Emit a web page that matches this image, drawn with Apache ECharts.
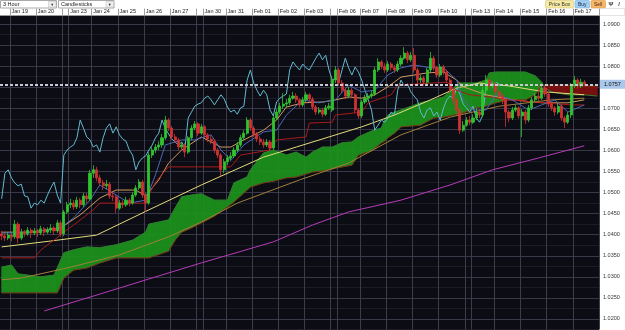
<!DOCTYPE html>
<html><head><meta charset="utf-8">
<script src="https://cdn.jsdelivr.net/npm/echarts@6.0.0/dist/echarts.min.js"></script>
<style>html,body{margin:0;padding:0;background:#fff;overflow:hidden}#c{width:625px;height:330px}</style>
</head><body><div id="c"></div><script>
// ---- tick labels / categories ----
const dayLabels = ['', 'Jan 19', 'Jan 20', '', 'Jan 23', 'Jan 24', 'Jan 25', 'Jan 26', 'Jan 27', '', 'Jan 30', 'Jan 31', 'Feb 01', 'Feb 02', 'Feb 03', '', 'Feb 06', 'Feb 07', 'Feb 08', 'Feb 09', 'Feb 10', '', 'Feb 13', 'Feb 14', 'Feb 15', 'Feb 16', 'Feb 17'];
const dayBars   = [3, 8, 8, 2, 7, 8, 8, 8, 8, 2, 7, 8, 8, 8, 8, 2, 7, 8, 8, 8, 8, 2, 7, 8, 8, 8, 8];

// ---- 3-hour candles ----
const open = [1.0402,1.0397,1.0392,1.0399,1.0395,1.0425,1.0392,1.0406,1.0402,1.0411,
1.0404,1.0409,1.0404,1.0414,1.0406,1.0411,1.0416,1.0409,1.0428,1.0402,
1.0454,1.0471,1.0475,1.0466,1.0482,1.0471,1.0492,1.0485,1.0546,1.0554,
1.0535,1.0523,1.0516,1.0520,1.0492,1.0490,1.0463,1.0475,1.0471,1.0482,
1.0475,1.0494,1.0511,1.0525,1.0494,1.0475,1.0589,1.0601,1.0608,1.0613,
1.0630,1.0672,1.0653,1.0632,1.0625,1.0608,1.0613,1.0596,1.0630,1.0653,
1.0663,1.0641,1.0656,1.0637,1.0627,1.0622,1.0601,1.0589,1.0554,1.0573,
1.0582,1.0587,1.0601,1.0613,1.0630,1.0641,1.0672,1.0653,1.0639,1.0627,
1.0620,1.0613,1.0620,1.0606,1.0677,1.0691,1.0705,1.0710,1.0713,1.0724,
1.0729,1.0720,1.0708,1.0720,1.0732,1.0722,1.0703,1.0691,1.0696,1.0686,
1.0701,1.0696,1.0767,1.0791,1.0760,1.0743,1.0729,1.0743,1.0732,1.0696,
1.0682,1.0715,1.0724,1.0729,1.0734,1.0791,1.0810,1.0800,1.0791,1.0805,
1.0796,1.0791,1.0805,1.0819,1.0831,1.0815,1.0826,1.0791,1.0767,1.0772,
1.0762,1.0791,1.0819,1.0796,1.0779,1.0798,1.0786,1.0767,1.0743,1.0720,
1.0696,1.0648,1.0660,1.0672,1.0667,1.0677,1.0691,1.0684,1.0743,1.0767,
1.0753,1.0758,1.0739,1.0729,1.0720,1.0691,1.0677,1.0696,1.0701,1.0682,
1.0691,1.0672,1.0701,1.0720,1.0729,1.0724,1.0748,1.0734,1.0710,1.0701,
1.0691,1.0705,1.0677,1.0667,1.0684,1.0753,1.0767,1.0753,1.0762];
const close = [1.0397,1.0392,1.0399,1.0395,1.0425,1.0392,1.0406,1.0402,1.0411,1.0404,
1.0409,1.0404,1.0414,1.0406,1.0411,1.0416,1.0409,1.0428,1.0402,1.0454,
1.0471,1.0475,1.0466,1.0482,1.0471,1.0492,1.0485,1.0546,1.0554,1.0535,
1.0523,1.0516,1.0520,1.0492,1.0490,1.0463,1.0475,1.0471,1.0482,1.0475,
1.0494,1.0511,1.0525,1.0494,1.0475,1.0589,1.0601,1.0608,1.0613,1.0630,
1.0672,1.0653,1.0632,1.0625,1.0608,1.0613,1.0596,1.0630,1.0653,1.0663,
1.0641,1.0656,1.0637,1.0627,1.0622,1.0601,1.0589,1.0554,1.0573,1.0582,
1.0587,1.0601,1.0613,1.0630,1.0641,1.0672,1.0653,1.0639,1.0627,1.0620,
1.0613,1.0620,1.0606,1.0677,1.0691,1.0705,1.0710,1.0713,1.0724,1.0729,
1.0720,1.0708,1.0720,1.0732,1.0722,1.0703,1.0691,1.0696,1.0686,1.0701,
1.0705,1.0767,1.0791,1.0760,1.0743,1.0729,1.0743,1.0732,1.0696,1.0682,
1.0715,1.0724,1.0729,1.0734,1.0791,1.0810,1.0800,1.0791,1.0805,1.0796,
1.0791,1.0805,1.0819,1.0831,1.0815,1.0826,1.0791,1.0767,1.0772,1.0762,
1.0791,1.0819,1.0796,1.0779,1.0798,1.0786,1.0767,1.0743,1.0720,1.0696,
1.0648,1.0660,1.0672,1.0667,1.0677,1.0691,1.0684,1.0743,1.0767,1.0753,
1.0758,1.0739,1.0729,1.0720,1.0691,1.0677,1.0696,1.0701,1.0682,1.0691,
1.0672,1.0701,1.0720,1.0729,1.0724,1.0748,1.0734,1.0710,1.0701,1.0691,
1.0705,1.0677,1.0667,1.0684,1.0753,1.0767,1.0753,1.0762,1.0757];
const low = [1.0387,1.0385,1.0387,1.0385,1.0390,1.0380,1.0387,1.0395,1.0397,1.0392,
1.0399,1.0395,1.0399,1.0397,1.0402,1.0404,1.0399,1.0404,1.0395,1.0397,
1.0449,1.0463,1.0459,1.0461,1.0463,1.0466,1.0475,1.0480,1.0535,1.0527,
1.0516,1.0506,1.0508,1.0485,1.0480,1.0452,1.0459,1.0463,1.0466,1.0468,
1.0471,1.0490,1.0506,1.0487,1.0454,1.0471,1.0582,1.0594,1.0601,1.0606,
1.0625,1.0646,1.0625,1.0618,1.0601,1.0603,1.0584,1.0592,1.0625,1.0648,
1.0634,1.0637,1.0630,1.0620,1.0615,1.0594,1.0582,1.0539,1.0546,1.0565,
1.0575,1.0582,1.0596,1.0608,1.0625,1.0637,1.0646,1.0632,1.0620,1.0613,
1.0606,1.0608,1.0599,1.0601,1.0672,1.0686,1.0698,1.0703,1.0708,1.0720,
1.0713,1.0701,1.0703,1.0715,1.0717,1.0696,1.0684,1.0686,1.0679,1.0682,
1.0696,1.0691,1.0760,1.0753,1.0736,1.0722,1.0724,1.0724,1.0689,1.0675,
1.0677,1.0710,1.0720,1.0724,1.0729,1.0786,1.0793,1.0784,1.0786,1.0789,
1.0784,1.0786,1.0800,1.0815,1.0807,1.0810,1.0784,1.0758,1.0760,1.0753,
1.0758,1.0786,1.0789,1.0772,1.0774,1.0779,1.0760,1.0736,1.0710,1.0686,
1.0639,1.0644,1.0656,1.0660,1.0663,1.0672,1.0677,1.0679,1.0736,1.0746,
1.0748,1.0732,1.0722,1.0710,1.0656,1.0667,1.0672,1.0691,1.0675,1.0632,
1.0663,1.0667,1.0696,1.0715,1.0717,1.0720,1.0727,1.0703,1.0694,1.0682,
1.0686,1.0670,1.0653,1.0663,1.0677,1.0748,1.0746,1.0748,1.0753];
const high = [1.0409,1.0404,1.0406,1.0404,1.0435,1.0430,1.0414,1.0411,1.0418,1.0416,
1.0416,1.0414,1.0421,1.0418,1.0418,1.0425,1.0421,1.0435,1.0433,1.0459,
1.0478,1.0485,1.0482,1.0490,1.0487,1.0499,1.0499,1.0554,1.0565,1.0561,
1.0542,1.0530,1.0530,1.0525,1.0501,1.0494,1.0482,1.0482,1.0490,1.0487,
1.0501,1.0518,1.0532,1.0530,1.0499,1.0596,1.0608,1.0615,1.0622,1.0639,
1.0682,1.0677,1.0658,1.0639,1.0630,1.0620,1.0618,1.0634,1.0660,1.0670,
1.0667,1.0663,1.0660,1.0641,1.0634,1.0627,1.0606,1.0594,1.0580,1.0589,
1.0596,1.0608,1.0620,1.0637,1.0648,1.0679,1.0677,1.0658,1.0644,1.0634,
1.0627,1.0627,1.0625,1.0682,1.0698,1.0713,1.0736,1.0722,1.0732,1.0739,
1.0736,1.0724,1.0727,1.0739,1.0736,1.0727,1.0708,1.0703,1.0701,1.0708,
1.0713,1.0777,1.0800,1.0796,1.0767,1.0748,1.0751,1.0748,1.0736,1.0701,
1.0720,1.0732,1.0736,1.0741,1.0798,1.0819,1.0815,1.0807,1.0812,1.0810,
1.0803,1.0812,1.0826,1.0845,1.0836,1.0834,1.0843,1.0796,1.0779,1.0777,
1.0796,1.0834,1.0824,1.0800,1.0805,1.0803,1.0791,1.0772,1.0748,1.0724,
1.0701,1.0670,1.0679,1.0682,1.0686,1.0701,1.0698,1.0751,1.0779,1.0772,
1.0765,1.0762,1.0743,1.0734,1.0724,1.0696,1.0703,1.0708,1.0705,1.0698,
1.0696,1.0708,1.0727,1.0736,1.0753,1.0755,1.0753,1.0739,1.0715,1.0705,
1.0713,1.0710,1.0682,1.0691,1.0760,1.0777,1.0772,1.0770,1.0767];

// ---- indicator lines: [bar index, price] ----
const ma200 = [[13,1.0219],[30,1.0259],[45,1.0295],[61,1.0333],[83,1.0383],[95,1.0423],[106,1.0454],[122,1.0482],[137,1.0518],[150,1.0554],[164,1.0582],[178,1.0611]];
const maSlow = [[0,1.0371],[15,1.0385],[29,1.0399],[45,1.0459],[61,1.0518],[80,1.0584],[90,1.0608],[100,1.0632],[110,1.0656],[120,1.0684],[131,1.0720],[139,1.0748],[146,1.0760],[155,1.0753],[166,1.0739],[178,1.0732]];
const maMid = [[0,1.0293],[6,1.0297],[20,1.0321],[36,1.0352],[51,1.0395],[61,1.0430],[72,1.0475],[91,1.0530],[106,1.0570],[122,1.0637],[137,1.0679],[152,1.0705],[168,1.0720],[178,1.0724]];
const maFast = [[0,1.0406],[9,1.0406],[18,1.0416],[24,1.0447],[30,1.0487],[35,1.0506],[41,1.0506],[44,1.0492],[48,1.0530],[51,1.0570],[55,1.0601],[61,1.0632],[67,1.0608],[70,1.0608],[74,1.0625],[80,1.0648],[84,1.0672],[87,1.0703],[92,1.0713],[98,1.0715],[102,1.0720],[106,1.0727],[110,1.0724],[114,1.0732],[118,1.0751],[122,1.0774],[130,1.0784],[135,1.0786],[139,1.0767],[141,1.0751],[144,1.0743],[148,1.0732],[156,1.0720],[165,1.0713],[173,1.0713],[178,1.0720]];
const kijun = [[0,1.0345],[10,1.0345],[12,1.0364],[16,1.0387],[19,1.0406],[22,1.0423],[28,1.0459],[30,1.0475],[44,1.0475],[45,1.0494],[47,1.0525],[51,1.0561],[70,1.0561],[73,1.0589],[82,1.0601],[84,1.0625],[93,1.0632],[94,1.0665],[101,1.0667],[102,1.0684],[110,1.0691],[112,1.0713],[119,1.0732],[121,1.0755],[136,1.0762],[139,1.0743],[143,1.0732],[149,1.0727],[155,1.0720],[166,1.0713],[174,1.0708],[178,1.0708]];
const tenkan = [[0,1.0404],[9,1.0406],[18,1.0416],[22,1.0440],[27,1.0482],[30,1.0518],[35,1.0494],[39,1.0475],[44,1.0482],[47,1.0542],[50,1.0613],[55,1.0625],[59,1.0625],[64,1.0637],[67,1.0601],[70,1.0577],[74,1.0613],[80,1.0644],[84,1.0648],[87,1.0684],[92,1.0720],[97,1.0713],[102,1.0720],[106,1.0755],[110,1.0739],[114,1.0743],[118,1.0779],[122,1.0796],[126,1.0803],[131,1.0796],[135,1.0796],[139,1.0767],[141,1.0720],[144,1.0696],[148,1.0696],[151,1.0732],[156,1.0720],[161,1.0696],[165,1.0708],[169,1.0720],[173,1.0691],[178,1.0708]];
const chikouShift = 26;

// ---- Ichimoku cloud edges ----
const cloudBars = [0,3,5,12,16,17,19,22,26,30,35,40,44,45,51,53,55,58,61,65,69,71,75,76,80,83,87,90,93,95,98,101,104,107,109,113,116,117,118,120,122,128,132,135,138,140,145,148,149,151,155,160,163,165,166,168,173,178,182];
const senkouA = [1.0323,1.0328,1.0307,1.0300,1.0304,1.0321,1.0357,1.0364,1.0371,1.0369,1.0376,1.0387,1.0406,1.0425,1.0435,1.0463,1.0490,1.0494,1.0497,1.0482,1.0482,1.0523,1.0537,1.0554,1.0594,1.0601,1.0589,1.0596,1.0584,1.0596,1.0608,1.0608,1.0618,1.0620,1.0632,1.0646,1.0653,1.0672,1.0684,1.0691,1.0696,1.0713,1.0720,1.0727,1.0748,1.0760,1.0760,1.0767,1.0784,1.0786,1.0786,1.0786,1.0777,1.0762,1.0748,1.0739,1.0732,1.0732,1.0729];
const senkouB = [1.0262,1.0262,1.0262,1.0262,1.0262,1.0262,1.0297,1.0316,1.0321,1.0333,1.0345,1.0345,1.0345,1.0345,1.0361,1.0387,1.0406,1.0416,1.0428,1.0444,1.0466,1.0478,1.0506,1.0513,1.0523,1.0527,1.0535,1.0537,1.0544,1.0549,1.0551,1.0556,1.0561,1.0565,1.0589,1.0599,1.0618,1.0622,1.0630,1.0641,1.0656,1.0660,1.0677,1.0679,1.0684,1.0686,1.0701,1.0705,1.0708,1.0713,1.0720,1.0720,1.0732,1.0753,1.0755,1.0755,1.0755,1.0753,1.0753];

// ---- axis ----
const yMin = 1.0175, yMax = 1.0920, yStep = 0.0025;

// ---- build ----
const categories = [];
const dayStart = {};
let n = 0;
dayLabels.forEach((lab, d) => {
  dayStart[n] = lab;
  for (let k = 0; k < dayBars[d]; k++) { categories.push(d + '-' + k); n++; }
});
const lastPrice = close[close.length - 1];
const candles = open.map((o, i) => [o, close[i], low[i], high[i]]);
const chikou = close.slice(chikouShift).map((c, i) => [i, c]);
const cloudSegs = [];
for (let i = 0; i < cloudBars.length - 1; i++) {
  cloudSegs.push([cloudBars[i], senkouA[i], senkouB[i], cloudBars[i + 1], senkouA[i + 1], senkouB[i + 1]]);
}
const pairs = (arr) => cloudBars.map((b, i) => [b, arr[i]]);
const FONT = 'Liberation Sans, Arial, sans-serif';

const line = (name, data, color, width, z, extra) => Object.assign({
  name, type: 'line', data, xAxisIndex: 0, symbol: 'none', showSymbol: false, silent: true, z: z || 3,
  lineStyle: { color, width: width || 1 }, emphasis: { disabled: true }
}, extra || {});

const chart = echarts.init(document.getElementById('c'), null, { renderer: 'canvas', width: 625, height: 330 });
chart.setOption({
  animation: false,
  backgroundColor: '#ffffff',
  grid: { left: 0, right: 26, top: 15.6, bottom: 0.5, show: true, backgroundColor: '#0c0c15', borderWidth: 0 },
  xAxis: [
    { type: 'category', data: categories, boundaryGap: true,
      axisLine: { show: false }, axisTick: { show: false }, axisLabel: { show: false },
      splitLine: { show: true, interval: (i) => (i in dayStart) && i > 0, lineStyle: { color: '#3c3c4c', width: 1 } } },
    { type: 'category', data: categories, boundaryGap: true, position: 'top',
      axisLine: { show: true, lineStyle: { color: '#9a9a9a', width: 1 } },
      axisTick: { show: true, interval: (i) => (i in dayStart) && i > 0, length: 7, lineStyle: { color: '#a0a0a0', width: 1 } },
      axisLabel: { show: true, interval: (i) => !!dayStart[i], formatter: (v, i) => dayStart[i] || '',
        align: 'left', fontSize: 5.5, color: '#222', margin: 1.5, fontFamily: FONT },
      splitLine: { show: false } }
  ],
  yAxis: {
    type: 'value', position: 'right', min: yMin, max: yMax, interval: yStep, scale: true,
    axisLine: { show: false }, axisTick: { show: false },
    axisLabel: { fontSize: 5.5, color: '#333', margin: 4, fontFamily: FONT,
      formatter: (v) => { const r = Math.round(v * 10000); if (r % 50 !== 0) return ''; if (Math.abs(v - lastPrice) < 0.0012) return ''; return v.toFixed(4); } },
    splitLine: { show: true, lineStyle: { color: ['#1c1c28', '#383848'], width: 1 } }
  },
  graphic: [
    { type: 'rect', shape: { x: 0.5, y: 0.5, width: 56, height: 7.5 }, style: { fill: '#fff', stroke: '#a8a8a8', lineWidth: 1 } },
    { type: 'rect', shape: { x: 48.5, y: 1.5, width: 7.5, height: 5.5 }, style: { fill: '#f0f0f0', stroke: '#b8b8b8', lineWidth: 0.5 } },
    { type: 'text', x: 3, y: 4.5, style: { text: '3 Hour', fontSize: 5.5, fill: '#222', verticalAlign: 'middle', fontFamily: FONT } },
    { type: 'text', x: 52.2, y: 4.5, style: { text: '▼', fontSize: 4, fill: '#333', align: 'center', verticalAlign: 'middle' } },
    { type: 'rect', shape: { x: 58.5, y: 0.5, width: 55.5, height: 7.5 }, style: { fill: '#fff', stroke: '#a8a8a8', lineWidth: 1 } },
    { type: 'rect', shape: { x: 106, y: 1.5, width: 7.5, height: 5.5 }, style: { fill: '#f0f0f0', stroke: '#b8b8b8', lineWidth: 0.5 } },
    { type: 'text', x: 61, y: 4.5, style: { text: 'Candlesticks', fontSize: 5.5, fill: '#222', verticalAlign: 'middle', fontFamily: FONT } },
    { type: 'text', x: 109.8, y: 4.5, style: { text: '▼', fontSize: 4, fill: '#333', align: 'center', verticalAlign: 'middle' } },
    { type: 'rect', shape: { x: 545.5, y: 0.5, width: 28, height: 7.5, r: 1 }, style: { fill: '#f6eaa2', stroke: '#d8c878', lineWidth: 0.6 } },
    { type: 'text', x: 559.5, y: 4.4, style: { text: 'Price Box', fontSize: 5, fill: '#333', align: 'center', verticalAlign: 'middle', fontFamily: FONT } },
    { type: 'rect', shape: { x: 575, y: 0.5, width: 14.5, height: 7.5, r: 1 }, style: { fill: '#9fd0f4', stroke: '#78b0dc', lineWidth: 0.6 } },
    { type: 'text', x: 582.2, y: 4.4, style: { text: 'Buy', fontSize: 5, fill: '#224', align: 'center', verticalAlign: 'middle', fontFamily: FONT } },
    { type: 'rect', shape: { x: 591, y: 0.5, width: 14.5, height: 7.5, r: 1 }, style: { fill: '#f7b763', stroke: '#d8954a', lineWidth: 0.6 } },
    { type: 'text', x: 598.2, y: 4.4, style: { text: 'Sell', fontSize: 5, fill: '#422', align: 'center', verticalAlign: 'middle', fontFamily: FONT } },
    { type: 'text', x: 611, y: 4.4, style: { text: 'Ψ', fontSize: 6, fill: '#333', align: 'center', verticalAlign: 'middle', fontWeight: 'bold' } },
    { type: 'text', x: 619, y: 4.4, style: { text: '/', fontSize: 6, fill: '#333', align: 'center', verticalAlign: 'middle', fontWeight: 'bold' } },
    { type: 'rect', shape: { x: 599.5, y: 8.5, width: 25, height: 7 }, style: { fill: '#fff', stroke: '#c8c8c8', lineWidth: 0.5 } }
  ],
  series: [
    { name: 'cloud', type: 'custom', data: cloudSegs, encode: { x: [0, 3], y: [1, 2, 4, 5] }, clip: true, silent: true, z: 1,
      renderItem: (params, api) => {
        const x0 = api.value(0), a0 = api.value(1), b0 = api.value(2), x1 = api.value(3), a1 = api.value(4), b1 = api.value(5);
        const pts = [api.coord([x0, a0]), api.coord([x1, a1]), api.coord([x1, b1]), api.coord([x0, b0])];
        const green = (a0 + a1) >= (b0 + b1);
        const col = green ? '#1c941c' : '#801010';
        return { type: 'polygon', shape: { points: pts }, style: { fill: col, stroke: col, lineWidth: 0.6, opacity: 0.92 } };
      } },
    line('senkouA', pairs(senkouA), '#2f7d2f', 1, 2),
    line('senkouB', pairs(senkouB), '#7a3418', 1, 2),
    line('ma200', ma200, '#b63cb6', 1),
    line('maSlow', maSlow, '#e4dc78', 1),
    line('maMid', maMid, '#a08038', 1),
    line('chikou', chikou, '#62bace', 1),
    line('maFast', maFast, '#d29a5c', 1),
    line('kijun', kijun, '#a81a1a', 1),
    line('tenkan', tenkan, '#4a68b4', 1, 3, {
      markLine: { silent: true, symbol: 'none', animation: false, precision: 4, z: 6,
        data: [{ yAxis: lastPrice }],
        lineStyle: { color: '#c8c8d2', type: [3, 2], width: 2 },
        label: { show: true, position: 'end', formatter: lastPrice.toFixed(4), backgroundColor: '#a9c8ec', color: '#111', fontSize: 5.5, fontFamily: FONT, padding: [1.5, 6, 1.5, 4], distance: 1 } } }),
    { name: 'price', type: 'candlestick', data: candles, xAxisIndex: 0, z: 5, silent: true, barWidth: 2.6,
      itemStyle: { color: '#2fc42f', color0: '#d03232', borderColor: '#2fc42f', borderColor0: '#d03232', borderWidth: 0.8 } }
  ]
});
</script></body></html>
